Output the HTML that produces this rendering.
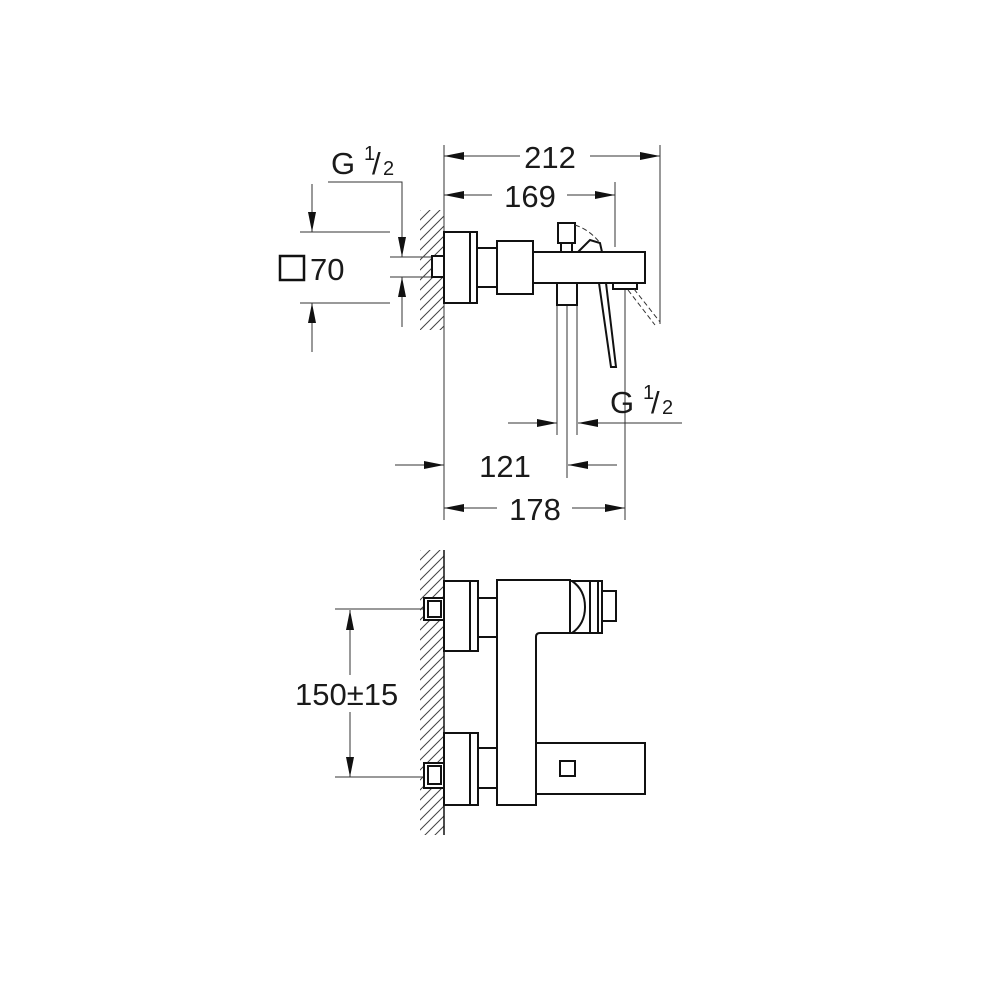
<!DOCTYPE html>
<html><head><meta charset="utf-8"><style>
html,body{margin:0;padding:0;background:#fff;width:1000px;height:1000px;overflow:hidden}
text{font-family:"Liberation Sans",Arial,sans-serif;fill:#1a1a1a}
</style></head><body>
<svg width="1000" height="1000" viewBox="0 0 1000 1000" xmlns="http://www.w3.org/2000/svg">
<defs>
<marker id="a" viewBox="0 0 20 8" refX="20" refY="4" markerWidth="20" markerHeight="8" markerUnits="userSpaceOnUse" orient="auto"><path d="M0,0 L20,4 L0,8 Z" fill="#111"/></marker>
<pattern id="h" width="10" height="10" patternUnits="userSpaceOnUse"><path d="M0,10 L10,0 M-2,2 L2,-2 M8,12 L12,8" stroke="#444" stroke-width="1"/></pattern>
</defs>
<g stroke="#333" stroke-width="1" fill="none">
<!-- top view extension lines -->
<line x1="444" y1="145" x2="444" y2="520"/>
<line x1="660" y1="145" x2="660" y2="324"/>
<line x1="615" y1="182" x2="615" y2="247"/>
<line x1="625" y1="290" x2="625" y2="520"/>
<line x1="557" y1="305" x2="557" y2="435"/>
<line x1="567" y1="305" x2="567" y2="478"/>
<line x1="577" y1="305" x2="577" y2="435"/>
<!-- 212 -->
<line x1="520" y1="156" x2="444" y2="156" marker-end="url(#a)"/>
<line x1="590" y1="156" x2="660" y2="156" marker-end="url(#a)"/>
<!-- 169 -->
<line x1="492" y1="195" x2="444" y2="195" marker-end="url(#a)"/>
<line x1="567" y1="195" x2="615" y2="195" marker-end="url(#a)"/>
<!-- G1/2 left -->
<polyline points="328,182 402,182 402,257" marker-end="url(#a)"/>
<line x1="402" y1="327" x2="402" y2="277" marker-end="url(#a)"/>
<line x1="300" y1="232" x2="390" y2="232"/>
<line x1="300" y1="303" x2="390" y2="303"/>
<line x1="390" y1="257" x2="432" y2="257"/>
<line x1="390" y1="277" x2="432" y2="277"/>
<line x1="312" y1="184" x2="312" y2="232" marker-end="url(#a)"/>
<line x1="312" y1="352" x2="312" y2="303" marker-end="url(#a)"/>
<!-- G1/2 bottom -->
<line x1="508" y1="423" x2="557" y2="423" marker-end="url(#a)"/>
<line x1="682" y1="423" x2="578" y2="423" marker-end="url(#a)"/>
<!-- 121 -->
<line x1="395" y1="465" x2="444" y2="465" marker-end="url(#a)"/>
<line x1="617" y1="465" x2="568" y2="465" marker-end="url(#a)"/>
<!-- 178 -->
<line x1="497" y1="508" x2="444" y2="508" marker-end="url(#a)"/>
<line x1="572" y1="508" x2="625" y2="508" marker-end="url(#a)"/>
</g>
<!-- top view faucet -->
<rect x="420" y="210" width="24" height="120" fill="url(#h)"/>
<g stroke="#111" stroke-width="2" fill="#fff">
<rect x="432" y="256" width="12" height="21"/>
<rect x="444" y="232" width="33" height="71"/>
<line x1="470" y1="232" x2="470" y2="303"/>
<rect x="477" y="248" width="20" height="39"/>
<rect x="557" y="283" width="20" height="22"/>
<rect x="561" y="240" width="11" height="12"/>
<rect x="558" y="223" width="17" height="20"/>
<polygon points="578,252 590,240 600,243 602,252"/>
<rect x="497" y="241" width="36" height="53"/>
<rect x="533" y="252" width="112" height="31"/>
<polygon points="599,283 606,283 616,367 611,367"/>
<rect x="613" y="283" width="24" height="6"/>
</g>
<g stroke="#333" stroke-width="1" fill="none" stroke-dasharray="5,3">
<path d="M575,225 Q590,230 600,243"/>
<line x1="628" y1="290" x2="655" y2="325"/>
<line x1="634" y1="289" x2="660" y2="322"/>
</g>
<!-- square 70 -->
<rect x="280" y="256" width="24" height="24" stroke="#111" stroke-width="2.5" fill="none"/>
<!-- texts top -->
<text x="550" y="168" font-size="31" text-anchor="middle">212</text>
<text x="530" y="207" font-size="31" text-anchor="middle">169</text>
<text x="331" y="174" font-size="31">G</text>
<text x="364" y="160" font-size="20">1</text>
<text x="372" y="174" font-size="31">/</text>
<text x="383" y="175" font-size="20">2</text>
<text x="310" y="280" font-size="31">70</text>
<text x="610" y="413" font-size="31">G</text>
<text x="643" y="399" font-size="20">1</text>
<text x="651" y="413" font-size="31">/</text>
<text x="662" y="414" font-size="20">2</text>
<text x="505" y="477" font-size="31" text-anchor="middle">121</text>
<text x="535" y="520" font-size="31" text-anchor="middle">178</text>
<!-- bottom view -->
<rect x="420" y="550" width="24" height="285" fill="url(#h)"/>
<line x1="444" y1="550" x2="444" y2="835" stroke="#111" stroke-width="1.5"/>
<g stroke="#333" stroke-width="1" fill="none">
<line x1="335" y1="609" x2="424" y2="609"/>
<line x1="335" y1="777" x2="424" y2="777"/>
<line x1="350" y1="675" x2="350" y2="610" marker-end="url(#a)"/>
<line x1="350" y1="712" x2="350" y2="777" marker-end="url(#a)"/>
</g>
<text x="295" y="705" font-size="31">150±15</text>
<g stroke="#111" stroke-width="2" fill="#fff">
<rect x="424" y="598" width="20" height="22"/>
<rect x="428" y="601" width="13" height="16"/>
<rect x="424" y="763" width="20" height="25"/>
<rect x="428" y="766" width="13" height="18"/>
<rect x="444" y="581" width="34" height="70"/>
<line x1="470" y1="581" x2="470" y2="651"/>
<rect x="444" y="733" width="34" height="72"/>
<line x1="470" y1="733" x2="470" y2="805"/>
<rect x="478" y="598" width="19" height="39"/>
<rect x="478" y="748" width="19" height="40"/>
<path d="M497,580 L570,580 L570,633 L540,633 Q536,633 536,637 L536,805 L497,805 Z"/>
<rect x="570" y="581" width="32" height="52"/>
<path d="M572,581 Q585,590 585,607 Q585,624 572,633" fill="none"/>
<line x1="590" y1="581" x2="590" y2="633"/>
<line x1="598" y1="581" x2="598" y2="633"/>
<rect x="602" y="591" width="14" height="30"/>
<rect x="536" y="743" width="109" height="51"/>
<rect x="560" y="761" width="15" height="15"/>
</g>
</svg>
</body></html>
